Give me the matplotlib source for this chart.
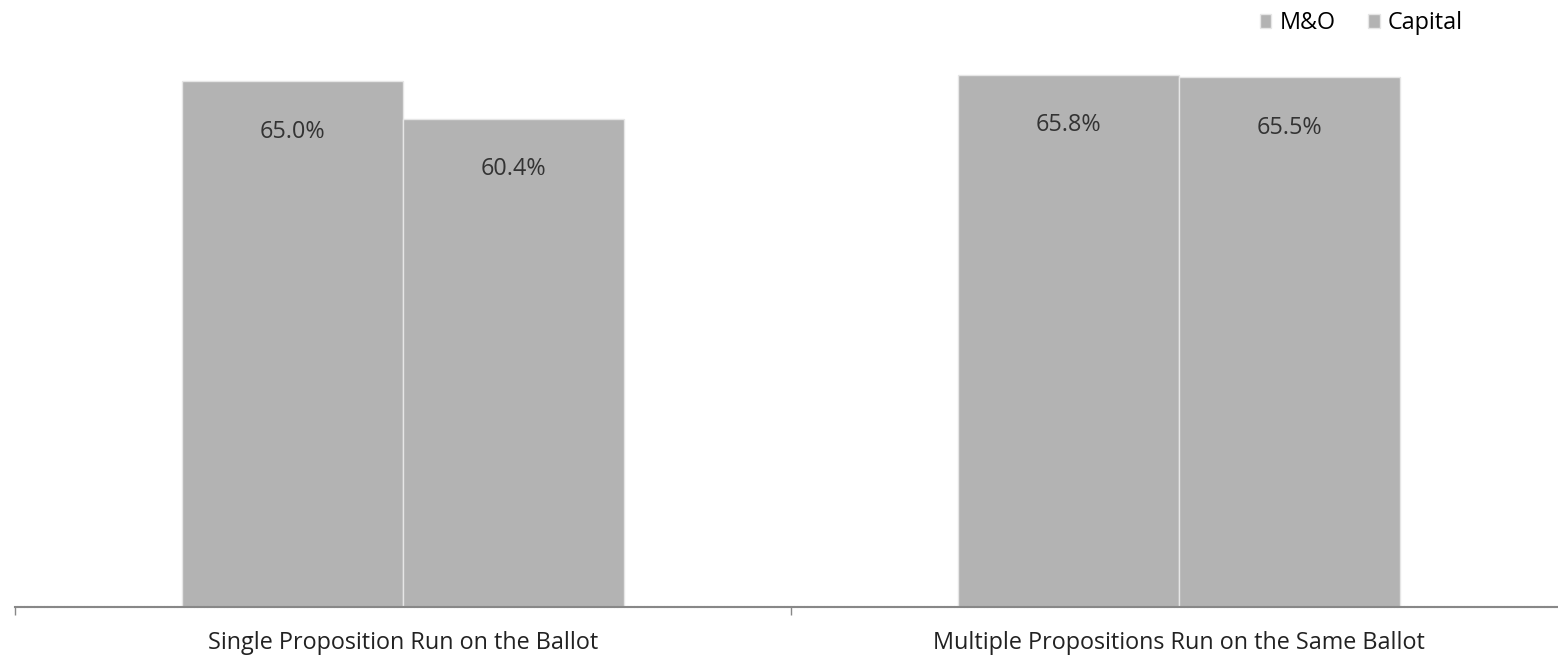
import matplotlib.pyplot as plt
import numpy as np

plt.rcParams['font.family'] = ['Open Sans', 'DejaVu Sans']

categories = ["Single Proposition Run on the Ballot", "Multiple Propositions Run on the Same Ballot"]
series_names = ["M&O", "Capital"]
mo_values = [65.0, 65.8]
capital_values = [60.4, 65.5]

bar_color = "#b3b3b3"

fig = plt.figure(figsize=(15.58, 6.56), dpi=100)
# plot area: bottom at y=607 px, left at x=15 px, right slightly past the edge
ax = fig.add_axes([15 / 1558, (656 - 607) / 656, 1552 / 1558, 566 / 656])

x = np.arange(len(categories))
w = 0.285
b1 = ax.bar(x - w / 2, mo_values, w, color=bar_color, edgecolor="#e6e6e6", linewidth=1.0, label=series_names[0])
b2 = ax.bar(x + w / 2, capital_values, w, color=bar_color, edgecolor="#e6e6e6", linewidth=1.0, label=series_names[1])

for bars, vals in [(b1, mo_values), (b2, capital_values)]:
    for r, v in zip(bars, vals):
        ax.text(r.get_x() + r.get_width() / 2, v - 6.2, f"{v:.1f}%", ha="center", va="center",
                fontsize=16.8, color="#333333")

ax.set_xlim(-0.5, 1.5)
ax.set_ylim(0, 70)
ax.set_xticks(x)
ax.set_xticklabels(categories, fontsize=16.8, color="#222222")
ax.tick_params(axis="x", which="major", length=0, pad=17)
ax.set_xticks([-0.5, 0.5, 1.5], minor=True)
ax.tick_params(axis="x", which="minor", length=6, width=1, color="#888888", direction="out")
ax.set_yticks([])
for s in ["top", "right", "left"]:
    ax.spines[s].set_visible(False)
ax.spines["bottom"].set_color("#888888")
ax.spines["bottom"].set_linewidth(1.5)
ax.spines["bottom"].set_linestyle((0, (1, 0.6)))

fig.legend(handles=[b1, b2], labels=series_names, loc="upper right", bbox_to_anchor=(1484 / 1558, 1.015),
           ncol=2, frameon=False, fontsize=16.8, handlelength=0.5, handleheight=0.5,
           handletextpad=0.35, columnspacing=1.4)

fig.savefig("out.png", dpi=100)
